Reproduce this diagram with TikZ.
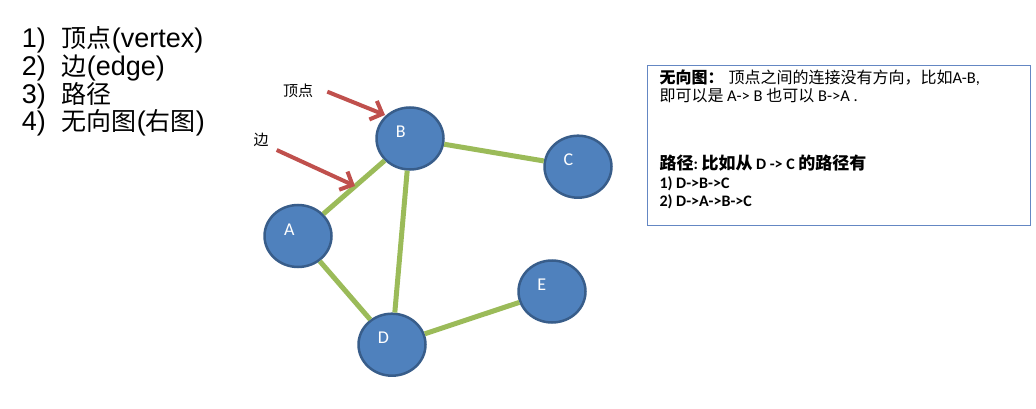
\documentclass[tikz,border=0pt]{standalone}
\usepackage{fontspec}
\setmainfont{Liberation Sans}
\newfontfamily\cjk{Noto Sans CJK SC}
\newfontfamily\calfont{Carlito}
\usetikzlibrary{shapes.geometric,arrows.meta}
\definecolor{nodefill}{HTML}{4F81BD}
\definecolor{nodeline}{HTML}{385D8A}
\definecolor{edgegreen}{HTML}{9BBB59}
\definecolor{arrowred}{HTML}{C0504D}
\definecolor{boxline}{RGB}{100,135,195}
\tikzset{
  vert/.style={ellipse, fill=nodefill, draw=nodeline, line width=2.5pt,
    minimum width=67pt, minimum height=62pt, inner sep=0pt},
  vlabel/.style={text=white, font=\calfont\fontsize{18}{20}\selectfont, inner sep=0pt},
  edge/.style={edgegreen, line width=5pt},
  pointer/.style={arrowred, line width=4pt, -{Straight Barb[length=10pt,width=20pt]}},
  listtxt/.style={anchor=base west, inner sep=0pt, font=\fontsize{27}{30}\selectfont},
  ctxt/.style={anchor=base west, inner sep=0pt, font=\fontsize{25}{28}\selectfont\cjk},
  boxtxt/.style={anchor=base west, inner sep=0pt},
}
\newcommand{\cjtxt}[1]{{\cjk\fontsize{16}{18}\selectfont #1}}
\newcommand{\latntxt}[1]{{\calfont\fontsize{16.5}{18}\selectfont #1}}
\newcommand{\bigcj}[1]{{\cjk\fontsize{25}{28}\selectfont #1}}
\begin{document}
\begin{tikzpicture}[x=1pt,y=-1pt]
\useasboundingbox (0,0) rectangle (1036,409);
% left list
\node[listtxt] (n1) at (21.7,48) {1)};
\node[listtxt] (t1) at (61.7,48) {\bigcj{顶点}(vertex)};
\node[listtxt] (n2) at (21.7,76) {2)};
\node[listtxt] (t2) at (61.7,76) {\bigcj{边}(edge)};
\node[listtxt] (n3) at (21.7,103.5) {3)};
\node[ctxt] (t3) at (61.7,103.5) {路径};
\node[listtxt] (n4) at (21.7,131) {4)};
\node[listtxt] (t4) at (61.7,131) {\bigcj{无向图}(\bigcj{右图})};
% vertices
\node[vert] (B) at (410,138.5) {};
\node[vert] (C) at (578,166.7) {};
\node[vert] (A) at (298,236) {};
\node[vert] (E) at (552,291.5) {};
\node[vert] (D) at (392,344.7) {};
\node[vlabel] (lB) at (400.8,131.7) {B};
\node[vlabel] (lC) at (568.3,160) {C};
\node[vlabel] (lA) at (289.3,230) {A};
\node[vlabel] (lD) at (383.3,337.3) {D};
\node[vlabel] (lE) at (541.7,285) {E};
% edges
\draw[edge] (B) -- (C);
\draw[edge] (A) -- (B);
\draw[edge] (B) -- (D);
\draw[edge] (A) -- (D);
\draw[edge] (D) -- (E);
% pointers
\node[inner sep=0pt, font=\cjk\fontsize{15}{17}\selectfont] (pv) at (298,91) {顶点};
\node[inner sep=0pt, font=\cjk\fontsize{15}{17}\selectfont] (pe) at (261,140) {边};
\coordinate (a1s) at (327.3,91.7);
\coordinate (a1e) at (385,115);
\coordinate (a2s) at (276.7,150);
\coordinate (a2e) at (355,186);
\draw[pointer] (a1s) -- (a1e);
\draw[pointer] (a2s) -- (a2e);
% text box
\node[draw=boxline, line width=1pt, minimum width=382.7pt, minimum height=160pt, anchor=north west, inner sep=0pt] (box) at (647.3,65) {};
\node[boxtxt] (b1) at (659.3,84) {{\cjk\bfseries\fontsize{16}{18}\selectfont 无向图：}\hspace{5pt}\cjtxt{顶点之间的连接没有方向，比如}\latntxt{A-B,}};
\node[boxtxt] (b2) at (659.3,101.7) {\cjtxt{即可以是}\latntxt{ A-> B }\cjtxt{也可以}\latntxt{ B->A .}};
\node[boxtxt] (b3) at (659.3,169) {\bfseries{\cjk\fontsize{17}{19}\selectfont 路径}{\calfont\fontsize{16}{18}\selectfont :\ }{\cjk\fontsize{17}{19}\selectfont 比如从}{\calfont\fontsize{16}{18}\selectfont\ D -> C\ }{\cjk\fontsize{17}{19}\selectfont 的路径有}};
\node[boxtxt, font=\calfont\bfseries\fontsize{16}{18}\selectfont] (b4) at (659.3,188) {1) D->B->C};
\node[boxtxt, font=\calfont\bfseries\fontsize{16}{18}\selectfont] (b5) at (659.3,206) {2) D->A->B->C};
\end{tikzpicture}
\end{document}
